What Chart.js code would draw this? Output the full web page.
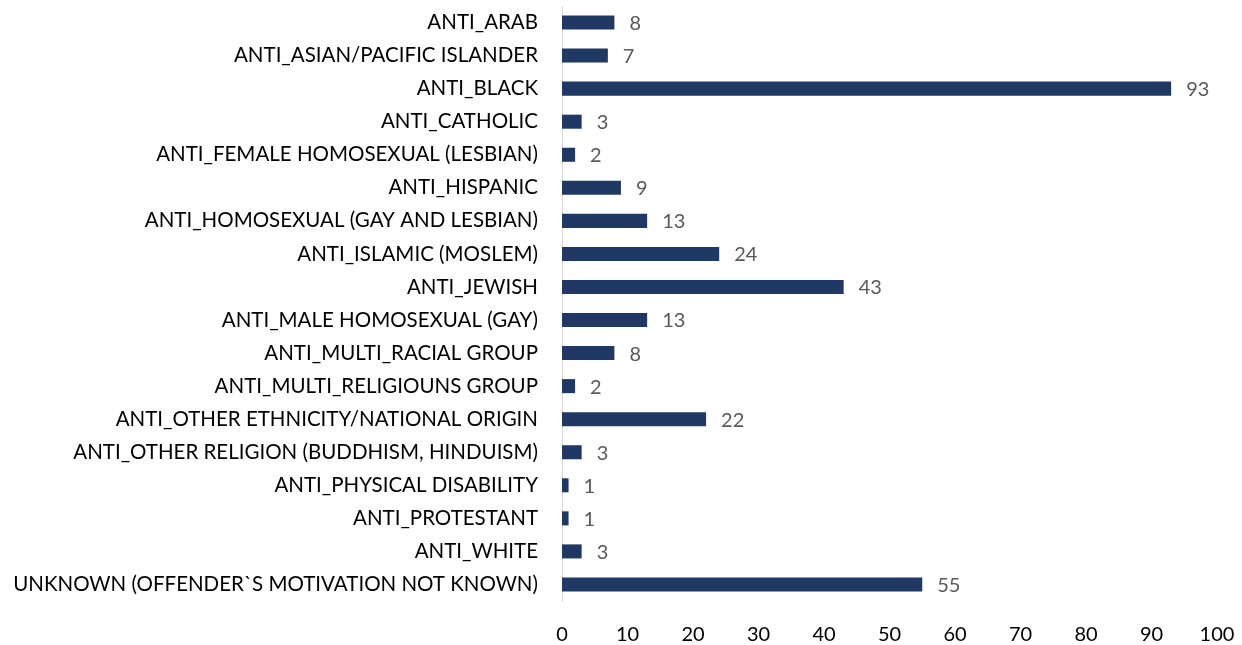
<!DOCTYPE html>
<html>
<head>
<meta charset="utf-8">
<script src="https://cdn.jsdelivr.net/npm/chart.js@4"></script>
<style>
    html, body { margin: 0; padding: 0; background: #fff; }
    #wrap { width: 1242px; height: 645px; }
</style>
</head>
<body>
<div id="wrap"><canvas id="biasChart"></canvas></div>
<script>
// 범주와 값
const categories = [
    'ANTI_ARAB',
    'ANTI_ASIAN/PACIFIC ISLANDER',
    'ANTI_BLACK',
    'ANTI_CATHOLIC',
    'ANTI_FEMALE HOMOSEXUAL (LESBIAN)',
    'ANTI_HISPANIC',
    'ANTI_HOMOSEXUAL (GAY AND LESBIAN)',
    'ANTI_ISLAMIC (MOSLEM)',
    'ANTI_JEWISH',
    'ANTI_MALE HOMOSEXUAL (GAY)',
    'ANTI_MULTI_RACIAL GROUP',
    'ANTI_MULTI_RELIGIOUNS GROUP',
    'ANTI_OTHER ETHNICITY/NATIONAL ORIGIN',
    'ANTI_OTHER RELIGION (BUDDHISM, HINDUISM)',
    'ANTI_PHYSICAL DISABILITY',
    'ANTI_PROTESTANT',
    'ANTI_WHITE',
    'UNKNOWN (OFFENDER`S MOTIVATION NOT KNOWN)'
];
const incidents = [8, 7, 93, 3, 2, 9, 13, 24, 43, 13, 8, 2, 22, 3, 1, 1, 3, 55];
const xTicks = [0, 10, 20, 30, 40, 50, 60, 70, 80, 90, 100];

const fontFamily = 'Lato, "Open Sans", sans-serif';

// 막대 끝에 값 표시
const valueLabels = {
    id: 'valueLabels',
    afterDatasetsDraw(chart) {
        const ctx = chart.ctx;
        const meta = chart.getDatasetMeta(0);
        ctx.save();
        ctx.font = '20px ' + fontFamily;
        ctx.fillStyle = '#595959';
        ctx.textAlign = 'left';
        ctx.textBaseline = 'middle';
        meta.data.forEach((bar, i) => {
            ctx.fillText(String(incidents[i]), bar.x + 15, bar.y + 1);
        });
        ctx.restore();
    }
};

new Chart(document.getElementById('biasChart'), {
    type: 'bar',
    data: {
        labels: categories,
        datasets: [{
            data: incidents,
            backgroundColor: '#203864',
            barPercentage: 0.85,
            categoryPercentage: 0.5
        }]
    },
    options: {
        indexAxis: 'y',
        responsive: true,
        maintainAspectRatio: false,
        animation: false,
        layout: { padding: { top: 6, right: 25, bottom: 0, left: 0 } },
        plugins: {
            legend: { display: false },
            tooltip: { enabled: false }
        },
        scales: {
            x: {
                min: 0,
                max: 100,
                afterBuildTicks: scale => { scale.ticks = xTicks.map(v => ({ value: v })); },
                afterFit: scale => {
                    scale.height = 44;
                    scale.paddingLeft = 0;
                    scale.paddingRight = 0;
                },
                grid: { display: false, drawTicks: false },
                border: { display: false },
                ticks: {
                    padding: 22,
                    color: '#000',
                    font: { size: 20, family: fontFamily }
                }
            },
            y: {
                afterFit: scale => {
                    scale.width = 562;
                    scale.paddingTop = 0;
                    scale.paddingBottom = 0;
                },
                grid: { display: false, drawTicks: false },
                border: { display: true, color: '#d9d9d9', width: 1 },
                ticks: {
                    padding: 24,
                    color: '#000',
                    autoSkip: false,
                    font: { size: 20.5, family: fontFamily }
                }
            }
        }
    },
    plugins: [valueLabels]
});
</script>
</body>
</html>
